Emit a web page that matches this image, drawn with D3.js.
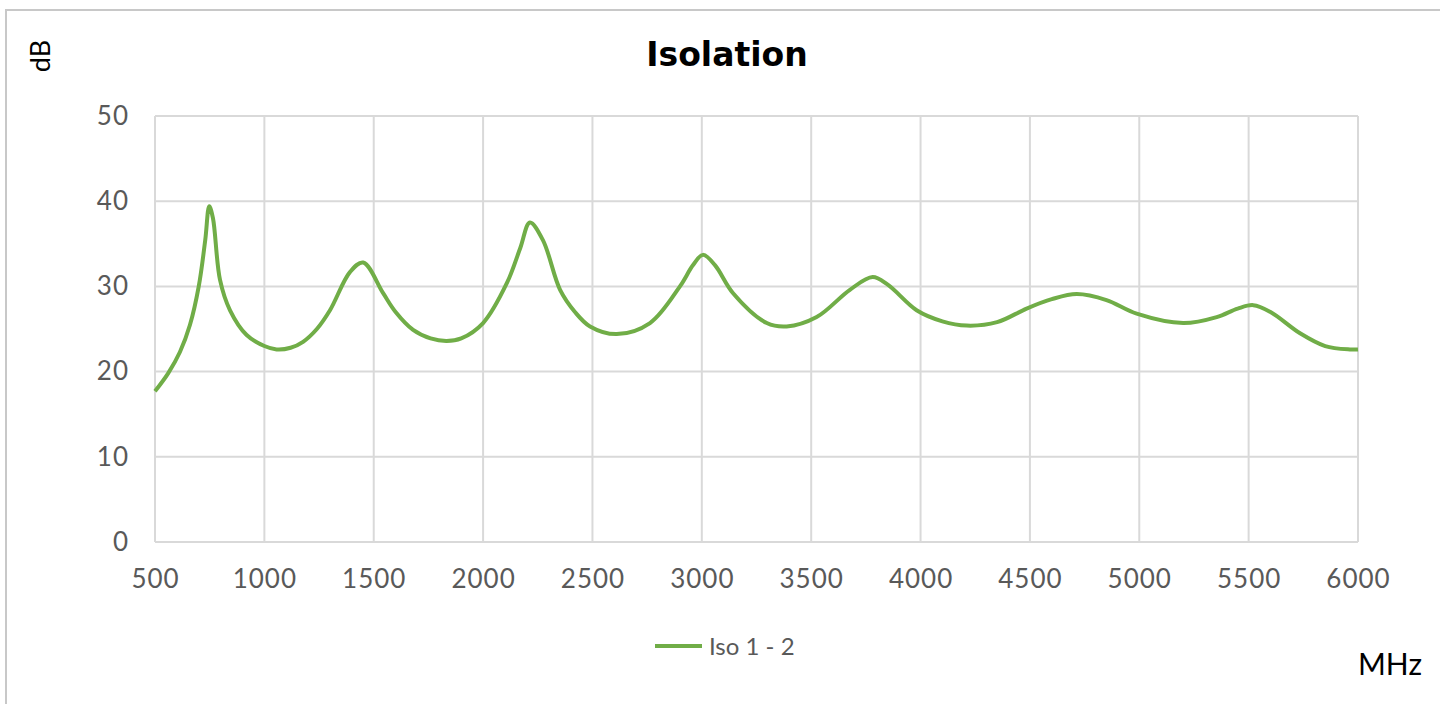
<!DOCTYPE html>
<html>
<head>
<meta charset="utf-8">
<script src="https://cdn.jsdelivr.net/npm/d3@7"></script>
<style>
  body { margin: 0; background: #fff; }
  #chart { width: 1440px; height: 704px; }
  .grid line { stroke: #d9d9d9; stroke-width: 2; }
  .tick text { fill: #595959; font-family: "Lato", "Open Sans", sans-serif; font-size: 26px; letter-spacing: 1px; }
</style>
</head>
<body>
<div id="chart"></div>
<script>
// frequency in MHz
const freq = [500, 560, 614, 660, 700, 730, 748, 765, 797, 843, 919, 1000, 1056, 1120, 1177, 1240, 1300, 1392, 1452, 1543, 1600, 1680, 1760, 1833, 1900, 2000, 2109, 2170, 2214, 2274, 2352, 2420, 2489, 2611, 2763, 2900, 2960, 3005, 3060, 3143, 3297, 3388, 3525, 3677, 3781, 3850, 3982, 4100, 4211, 4350, 4485, 4600, 4714, 4850, 4988, 5201, 5354, 5450, 5521, 5600, 5735, 5850, 5963, 6000];
// isolation in dB
const iso = [17.7, 19.8, 22.3, 25.5, 30.0, 35.5, 39.4, 38.0, 30.8, 27.2, 24.3, 23.0, 22.6, 22.8, 23.5, 25.0, 27.2, 31.7, 32.8, 29.2, 27.0, 24.9, 23.9, 23.6, 23.9, 25.7, 30.4, 34.5, 37.5, 35.4, 29.6, 27.0, 25.3, 24.4, 25.7, 30.0, 32.5, 33.7, 32.5, 29.2, 25.7, 25.3, 26.4, 29.6, 31.1, 30.2, 27.2, 25.9, 25.4, 25.8, 27.4, 28.5, 29.1, 28.4, 26.8, 25.7, 26.4, 27.4, 27.8, 27.0, 24.5, 23.0, 22.6, 22.6];
const xTicks = [500, 1000, 1500, 2000, 2500, 3000, 3500, 4000, 4500, 5000, 5500, 6000];
const yTicks = [0, 10, 20, 30, 40, 50];

const data = freq.map((f, i) => ({f: f, v: iso[i]}));

const W = 1440, H = 704;
const margin = {top: 116, right: 82, bottom: 162, left: 155};
const width = W - margin.left - margin.right;
const height = H - margin.top - margin.bottom;

const svg = d3.select("#chart").append("svg")
    .attr("width", W)
    .attr("height", H);

// outer chart frame
svg.append("rect")
    .attr("x", 6).attr("y", 10)
    .attr("width", W + 20).attr("height", H + 20)
    .attr("fill", "none")
    .attr("stroke", "#c8c8c8")
    .attr("stroke-width", 2);

const g = svg.append("g")
    .attr("transform", "translate(" + margin.left + "," + margin.top + ")");

let x = d3.scaleLinear().domain([500, 6000]).range([0, width]);
let y = d3.scaleLinear().domain([0, 50]).range([height, 0]);

// grid
g.append("g")
    .attr("class", "grid")
    .selectAll("line.v")
    .data(xTicks)
    .enter().append("line")
    .attr("x1", d => x(d)).attr("x2", d => x(d))
    .attr("y1", 0).attr("y2", height);

g.append("g")
    .attr("class", "grid")
    .selectAll("line.h")
    .data(yTicks)
    .enter().append("line")
    .attr("x1", 0).attr("x2", width)
    .attr("y1", d => y(d)).attr("y2", d => y(d));

// axes (labels only)
const xAxis = g.append("g")
    .attr("transform", "translate(0," + height + ")")
    .call(d3.axisBottom(x).tickValues(xTicks).tickSize(0).tickPadding(28).tickFormat(d3.format("d")));
xAxis.select(".domain").remove();

const yAxis = g.append("g")
    .call(d3.axisLeft(y).tickValues(yTicks).tickSize(0).tickPadding(26));
yAxis.select(".domain").remove();

// the line
const valueline = d3.line()
    .x(d => x(d.f))
    .y(d => y(d.v))
    .curve(d3.curveCatmullRom.alpha(0.5));

g.append("path")
    .attr("d", valueline(data))
    .attr("fill", "none")
    .attr("stroke", "#70ad47")
    .attr("stroke-width", 4)
    .attr("stroke-linejoin", "round");

// title
svg.append("text")
    .attr("x", 727).attr("y", 66)
    .attr("text-anchor", "middle")
    .style("font-family", "DejaVu Sans, Verdana, sans-serif")
    .style("font-weight", "bold")
    .style("font-size", "33px")
    .attr("fill", "#000")
    .text("Isolation");

// y label
svg.append("text")
    .attr("transform", "translate(50,56) rotate(-90)")
    .attr("text-anchor", "middle")
    .style("font-family", "Lato, sans-serif")
    .style("font-size", "27px")
    .attr("fill", "#000")
    .text("dB");

// x label
svg.append("text")
    .attr("x", 1422).attr("y", 675)
    .attr("text-anchor", "end")
    .style("font-family", "Lato, sans-serif")
    .style("font-size", "30px")
    .attr("fill", "#000")
    .text("MHz");

// legend
svg.append("line")
    .attr("x1", 655).attr("x2", 702)
    .attr("y1", 646).attr("y2", 646)
    .attr("stroke", "#70ad47")
    .attr("stroke-width", 4);
svg.append("text")
    .attr("x", 709).attr("y", 655)
    .style("font-family", "Lato, sans-serif")
    .style("font-size", "24px")
    .attr("fill", "#595959")
    .text("Iso 1 - 2");
</script>
</body>
</html>
